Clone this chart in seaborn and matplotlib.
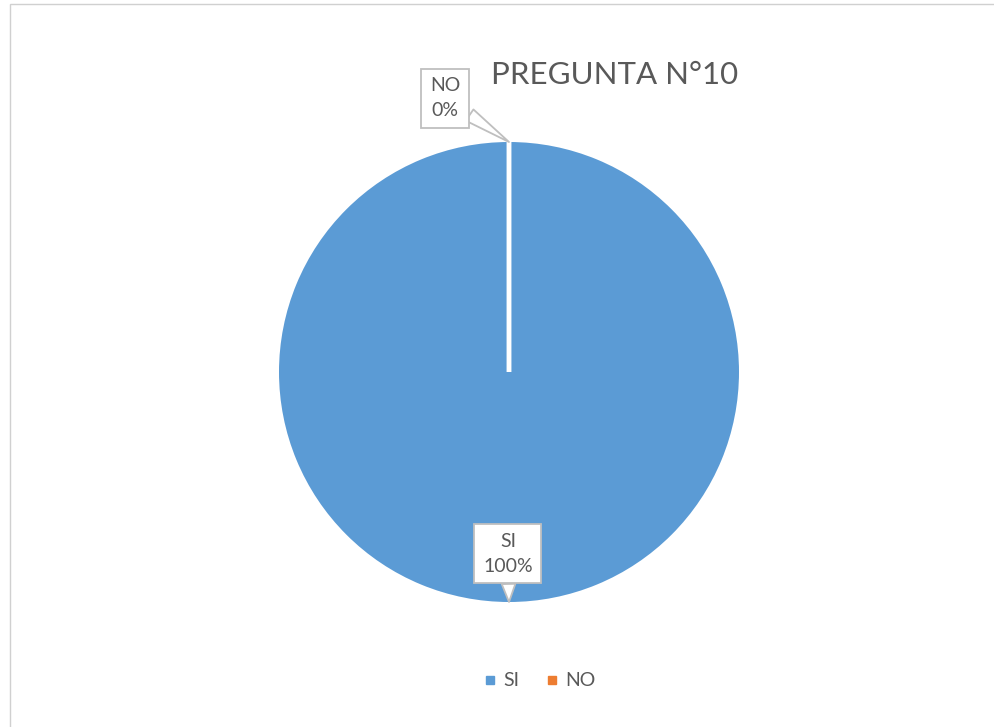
import matplotlib
matplotlib.use("Agg")
import matplotlib.pyplot as plt
from matplotlib.patches import Rectangle
from matplotlib.lines import Line2D
import seaborn as sns

categories = ["SI", "NO"]
values = [100, 0]
colors = ["#5B9BD5", "#ED7D31"]
title = "PREGUNTA N°10"

sns.set_theme(style="white")
plt.rcParams["font.family"] = ["Lato", "DejaVu Sans"]

W, H = 994, 727
fig = plt.figure(figsize=(W / 100, H / 100), dpi=100)
fig.patch.set_facecolor("white")

# outer chart border (only left/top visible)
fig.patches.append(Rectangle((10 / W, -0.1), 1.2, 1 - 4 / H + 0.1,
                             transform=fig.transFigure, fill=False,
                             edgecolor="#D0D0D0", linewidth=1))

cx, cy, r = 509, 372, 230
ax = fig.add_axes([(cx - r) / W, (H - cy - r) / H, 2 * r / W, 2 * r / H])
wedges, _ = ax.pie(values, colors=colors, startangle=90, counterclock=False,
                   radius=1, wedgeprops=dict(edgecolor="white", linewidth=3.5))
wedges[0].set_linewidth(0)
ax.set_xlim(-1, 1)
ax.set_ylim(-1, 1)
ax.axis("off")

total = sum(values)
label_pos = {"NO": (-0.278, 1.19), "SI": (-0.005, -0.79)}
anchor = {"NO": (0.0, 1.0), "SI": (0.0, -1.0)}
for cat, val in zip(categories, values):
    pct = f"{round(100 * val / total)}%"
    ax.annotate(f"{cat}\n{pct}", xy=anchor[cat], xytext=label_pos[cat],
                ha="center", va="center", fontsize=14, color="#595959",
                linespacing=1.55, annotation_clip=False,
                bbox=dict(boxstyle="square,pad=0.45", fc="white", ec="#BFBFBF", lw=1.3),
                arrowprops=dict(arrowstyle="wedge,tail_width=0.7,shrink_factor=0.5",
                                fc="white", ec="#BFBFBF", lw=1.3,
                                shrinkA=0, shrinkB=0))

fig.text(615 / W, 1 - 75 / H, title, ha="center", va="center",
         fontsize=22.5, color="#595959")

handles = [Line2D([0], [0], marker="s", linestyle="", markersize=6,
                  markerfacecolor=c, markeredgecolor=c) for c in colors]
fig.legend(handles, categories, loc="center", bbox_to_anchor=(538 / W, 1 - 681 / H),
           ncol=2, frameon=False, fontsize=14, labelcolor="#595959",
           handletextpad=0.2, columnspacing=1.15, handlelength=1.0)

fig.savefig("out.png", dpi=100, facecolor="white")
